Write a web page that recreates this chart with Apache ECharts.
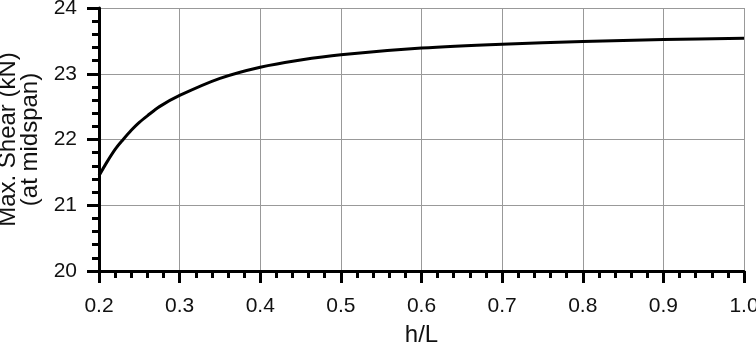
<!DOCTYPE html>
<html>
<head>
<meta charset="utf-8">
<script src="https://cdn.jsdelivr.net/npm/echarts@6/dist/echarts.min.js"></script>
<style>
  html, body { margin: 0; padding: 0; background: #fff; }
  #chart { width: 756px; height: 344px; }
</style>
</head>
<body>
<div id="chart"></div>
<script>
// h/L ratio sampled along the curve
const hOverL = [0.2, 0.21, 0.22, 0.23, 0.24, 0.25, 0.26, 0.275, 0.3, 0.35, 0.4, 0.45, 0.5, 0.6, 0.7, 0.8, 0.9, 1.0];
// max shear at midspan (kN)
const maxShear = [21.45, 21.66, 21.85, 22.0, 22.14, 22.26, 22.36, 22.5, 22.67, 22.93, 23.1, 23.21, 23.29, 23.39, 23.45, 23.49, 23.52, 23.54];

const xName = 'h/L';
const yName = 'Max. Shear (kN)\n(at midspan)';

const chart = echarts.init(document.getElementById('chart'));

const axisCommon = {
  axisLine: { show: true, onZero: false, lineStyle: { color: '#000', width: 3 } },
  axisTick: { show: true, inside: false, length: 12, lineStyle: { color: '#000', width: 3 } },
  minorTick: { show: true, splitNumber: 5, length: 7, lineStyle: { color: '#000', width: 3 } },
  splitLine: { show: true, lineStyle: { color: '#999', width: 1 } },
  axisLabel: { color: '#111', fontSize: 21, fontFamily: 'Liberation Sans' },
  nameTextStyle: { color: '#111', fontSize: 24, fontFamily: 'Liberation Sans' }
};

chart.setOption({
  animation: false,
  grid: { left: 99, right: 12, top: 8, bottom: 73, containLabel: false, outerBoundsMode: 'none' },
  xAxis: Object.assign({}, axisCommon, {
    type: 'value',
    min: 0.2,
    max: 1.0,
    interval: 0.1,
    name: xName,
    nameLocation: 'middle',
    nameGap: 52,
    axisLabel: Object.assign({}, axisCommon.axisLabel, {
      margin: 25,
      formatter: v => v.toFixed(1)
    })
  }),
  yAxis: Object.assign({}, axisCommon, {
    type: 'value',
    min: 20,
    max: 24,
    interval: 1,
    name: yName,
    nameLocation: 'middle',
    nameGap: 53,
    nameTextStyle: Object.assign({}, axisCommon.nameTextStyle, { lineHeight: 22 }),
    axisLabel: Object.assign({}, axisCommon.axisLabel, { margin: 22 })
  }),
  series: [{
    type: 'line',
    data: hOverL.map((x, i) => [x, maxShear[i]]),
    showSymbol: false,
    smooth: 0.3,
    lineStyle: { color: '#000', width: 3 }
  }]
});
</script>
</body>
</html>
